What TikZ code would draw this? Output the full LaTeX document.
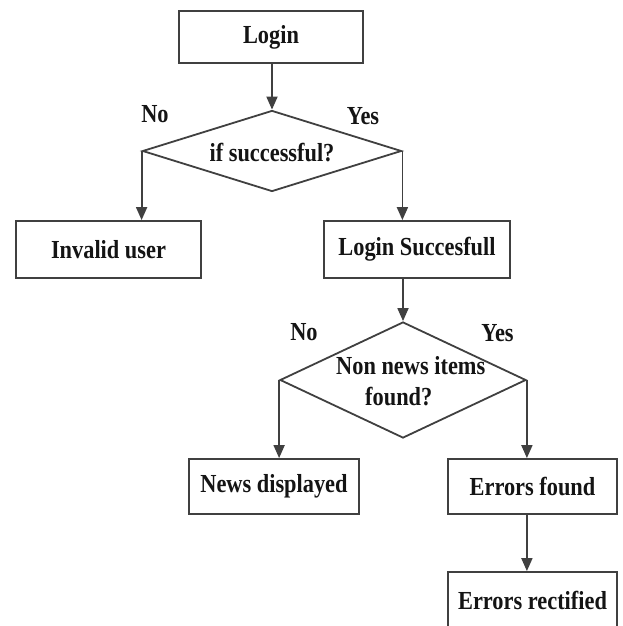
\documentclass[tikz,border=0pt]{standalone}
\usepackage{fontspec}
\setmainfont{Liberation Serif}[FakeStretch=0.86]
\usetikzlibrary{shapes.geometric,arrows.meta}
\tikzset{
  base/.style={draw=black!75, line width=1.8pt, fill=white, text=black!92,
    font=\fontsize{26}{31}\selectfont\bfseries, inner sep=0pt},
  procbox/.style={base, rectangle, minimum height=57pt},
  decision/.style={base, diamond},
  lbl/.style={text=black!92, font=\fontsize{26}{31}\selectfont\bfseries, inner sep=0pt},
  flow/.style={draw=black!75, line width=1.8pt, -{Triangle[length=13pt,width=11pt]}}
}
\begin{document}
\begin{tikzpicture}[x=1pt,y=-1pt]
\useasboundingbox (0,0) rectangle (623,626);
\clip (0,0) rectangle (623,626);
% boxes
\node[procbox, minimum width=184pt, minimum height=52pt] (login) at (271,37) {Login};
\node[decision, minimum width=259pt, minimum height=81pt] (d1) at (272,151) {};
\node[lbl] (d1text) at (272,153) {if successful?};
\node[lbl] (no1) at (155,114) {No};
\node[lbl] (yes1) at (363,116) {Yes};
\node[procbox, minimum width=185pt] (invalid) at (108.5,249.5) {Invalid user};
\node[procbox, minimum width=186pt] (lsucc) at (417,249.5) {Login Succesfull};
\node[decision, minimum width=246pt, minimum height=116pt] (d2) at (403,380) {};
\node[lbl, align=left, anchor=west] (d2text) at (336,381) {Non news items\\\hspace*{29pt}found?};
\node[lbl] (no2) at (304,332) {No};
\node[lbl] (yes2) at (497.5,333) {Yes};
\node[procbox, minimum width=170pt, minimum height=55pt] (news) at (274,486.5) {News displayed};
\node[procbox, minimum width=169pt, minimum height=55pt] (ef) at (532.5,486.5) {Errors found};
\node[procbox, minimum width=169pt] (er) at (532.5,600.5) {Errors rectified};
% connectors
\draw[flow] (login.south -| d1.north) -- (d1.north);
\draw[flow] (d1.west) -- (d1.west |- invalid.north);
\draw[flow] (d1.east) -- (d1.east |- lsucc.north);
\draw[flow] (lsucc.south -| d2.north) -- (d2.north);
\draw[flow] (d2.west) -- (d2.west |- news.north);
\draw[flow] (d2.east) -- (d2.east |- ef.north);
\draw[flow] (ef.south -| d2.east) -- (er.north -| d2.east);
\end{tikzpicture}
\end{document}
